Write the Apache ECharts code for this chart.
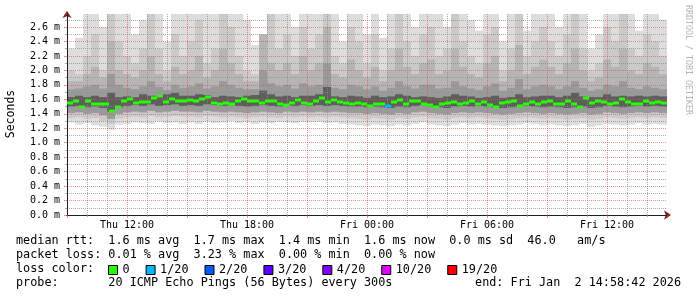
<!DOCTYPE html>
<html><head><meta charset="utf-8">
<script src="https://cdn.jsdelivr.net/npm/echarts@6/dist/echarts.min.js"></script>
<style>html,body{margin:0;padding:0;background:#fff}#c{width:697px;height:297px}</style>
</head><body><div id="c"></div>
<script>
// ---- data (hours from Thu 09:00, 30 h window) ----
const tickHours = [3, 9, 15, 21, 27];
const tickLabels = ['Thu 12:00', 'Thu 18:00', 'Fri 00:00', 'Fri 06:00', 'Fri 12:00'];
const yTicks = [0.0,0.2,0.4,0.6,0.8,1.0,1.2,1.4,1.6,1.8,2.0,2.2,2.4,2.6];

// median rtt (ms), 100 samples of 18 min
const median = [
 1.55,1.58,1.50,1.57,1.53,1.54,1.53,1.44,1.50,1.58,1.61,1.55,1.56,1.56,1.62,1.64,1.56,1.60,1.57,1.58,
 1.59,1.57,1.61,1.63,1.55,1.54,1.55,1.54,1.58,1.60,1.57,1.57,1.55,1.57,1.57,1.54,1.52,1.55,1.59,1.55,
 1.53,1.58,1.62,1.56,1.59,1.56,1.55,1.54,1.55,1.54,1.51,1.53,1.53,1.51,1.56,1.59,1.54,1.57,1.58,1.53,
 1.52,1.49,1.53,1.55,1.56,1.53,1.55,1.58,1.53,1.56,1.52,1.50,1.55,1.56,1.58,1.51,1.53,1.56,1.53,1.56,
 1.57,1.53,1.53,1.58,1.53,1.50,1.62,1.55,1.58,1.56,1.53,1.55,1.61,1.56,1.54,1.54,1.58,1.55,1.56,1.55];
// packet loss per median sample: [sample index, lost pings of 20]
const lossSamples = [[53, 1]];

// smoke (ms), 75 columns of 24 min
const smokeHi = [
 2.30,2.45,2.78,2.78,2.60,2.78,2.78,2.78,2.50,2.70,2.78,2.78,2.40,2.78,2.78,
 2.78,2.78,2.78,2.78,2.78,2.78,2.78,2.70,2.35,2.40,2.78,2.78,2.78,2.60,2.78,
 2.78,2.78,2.78,2.78,2.40,2.78,2.78,2.50,2.78,2.45,2.78,2.78,2.78,2.60,2.78,
 2.78,2.78,2.60,2.78,2.78,2.70,2.55,2.78,2.78,2.40,2.78,2.78,2.55,2.78,2.78,
 2.78,2.60,2.78,2.78,2.78,2.30,2.50,2.78,2.78,2.78,2.78,2.55,2.78,2.78,2.70];
const smokeH2 = [
 2.00,1.95,2.20,2.50,2.00,2.78,2.40,2.20,2.10,2.30,2.78,2.30,2.00,2.50,2.20,
 2.40,2.70,2.10,2.30,2.78,2.60,2.20,2.00,1.95,2.10,2.78,2.30,2.50,2.20,2.60,
 2.30,2.50,2.78,2.20,2.10,2.60,2.40,2.10,2.50,2.00,2.30,2.78,2.40,2.20,2.50,
 2.60,2.20,2.30,2.78,2.40,2.20,2.10,2.50,2.60,2.00,2.30,2.78,2.20,2.40,2.60,
 2.40,2.20,2.50,2.78,2.30,2.00,2.10,2.60,2.40,2.78,2.30,2.20,2.50,2.40,2.20];
const smokeH3 = [
 1.85,1.85,1.95,2.05,1.90,2.40,2.00,1.95,1.90,2.00,2.20,1.95,1.85,2.05,1.95,
 2.00,2.20,1.90,2.00,2.30,2.10,1.95,1.85,1.85,2.50,2.10,2.00,2.10,1.95,2.20,
 2.00,2.10,2.60,1.95,1.90,2.15,2.00,1.90,2.05,1.85,2.00,2.30,2.05,1.95,2.10,
 2.15,1.95,2.00,2.30,2.05,1.95,1.90,2.10,2.20,1.85,2.00,2.35,1.95,2.05,2.15,
 2.05,1.95,2.10,2.30,2.00,1.85,1.90,2.15,2.05,2.30,2.00,1.95,2.10,2.05,1.95];
const smokeQ3 = [
 1.74,1.75,1.78,1.80,1.75,1.95,1.80,1.76,1.74,1.78,1.85,1.77,1.73,1.80,1.76,
 1.78,1.82,1.75,1.78,1.85,1.80,1.76,1.74,1.74,2.00,1.82,1.78,1.80,1.75,1.82,
 1.78,1.80,2.10,1.76,1.74,1.80,1.78,1.74,1.78,1.72,1.76,1.85,1.78,1.75,1.80,
 1.80,1.75,1.76,1.85,1.78,1.75,1.73,1.78,1.82,1.72,1.76,1.88,1.74,1.78,1.80,
 1.78,1.74,1.78,1.85,1.76,1.72,1.74,1.80,1.78,1.85,1.76,1.74,1.78,1.76,1.74];
const smokeDHi = [
 1.63,1.65,1.63,1.65,1.63,1.69,1.63,1.64,1.63,1.67,1.65,1.64,1.67,1.69,1.65,
 1.65,1.67,1.66,1.63,1.65,1.64,1.63,1.65,1.66,1.72,1.67,1.64,1.65,1.63,1.65,
 1.65,1.67,1.77,1.64,1.63,1.65,1.64,1.62,1.65,1.63,1.64,1.67,1.65,1.63,1.64,
 1.63,1.62,1.64,1.67,1.65,1.64,1.62,1.63,1.65,1.62,1.63,1.67,1.63,1.64,1.65,
 1.65,1.63,1.65,1.69,1.64,1.63,1.63,1.67,1.64,1.65,1.64,1.65,1.64,1.65,1.64];
const smokeDLo = [
 1.50,1.51,1.49,1.50,1.48,1.43,1.49,1.51,1.52,1.51,1.53,1.51,1.52,1.53,1.51,
 1.52,1.51,1.53,1.52,1.51,1.52,1.51,1.50,1.51,1.52,1.51,1.50,1.52,1.51,1.52,
 1.51,1.52,1.51,1.52,1.51,1.50,1.50,1.49,1.50,1.49,1.48,1.50,1.49,1.51,1.52,
 1.50,1.49,1.48,1.50,1.51,1.50,1.51,1.50,1.49,1.48,1.49,1.50,1.51,1.50,1.49,
 1.50,1.49,1.48,1.49,1.50,1.48,1.49,1.51,1.50,1.49,1.50,1.51,1.50,1.51,1.50];
const smokeQ1 = [
 1.41,1.42,1.40,1.41,1.38,1.33,1.40,1.42,1.43,1.42,1.44,1.42,1.43,1.44,1.43,
 1.43,1.42,1.44,1.43,1.42,1.43,1.42,1.41,1.42,1.43,1.42,1.41,1.43,1.42,1.43,
 1.42,1.43,1.42,1.43,1.42,1.41,1.41,1.40,1.41,1.40,1.39,1.41,1.40,1.42,1.43,
 1.41,1.40,1.39,1.41,1.42,1.41,1.42,1.41,1.40,1.39,1.40,1.41,1.42,1.41,1.40,
 1.41,1.40,1.39,1.40,1.41,1.39,1.40,1.42,1.41,1.40,1.41,1.42,1.41,1.42,1.41];
const smokeL2 = [
 1.34,1.35,1.33,1.34,1.30,1.26,1.33,1.35,1.36,1.35,1.37,1.35,1.36,1.37,1.36,
 1.36,1.35,1.37,1.36,1.35,1.36,1.35,1.34,1.35,1.36,1.35,1.34,1.36,1.35,1.36,
 1.35,1.36,1.35,1.36,1.35,1.34,1.33,1.32,1.34,1.33,1.32,1.34,1.33,1.35,1.36,
 1.34,1.33,1.32,1.34,1.35,1.34,1.35,1.34,1.33,1.32,1.33,1.34,1.35,1.34,1.33,
 1.34,1.33,1.32,1.33,1.34,1.32,1.33,1.35,1.34,1.33,1.34,1.35,1.34,1.35,1.34];
const smokeLo = [
 1.28,1.25,1.27,1.24,1.22,1.18,1.25,1.26,1.28,1.27,1.26,1.29,1.27,1.28,1.26,
 1.28,1.26,1.29,1.27,1.28,1.30,1.27,1.28,1.26,1.28,1.27,1.29,1.28,1.27,1.29,
 1.28,1.29,1.27,1.28,1.26,1.25,1.24,1.23,1.25,1.24,1.23,1.25,1.24,1.26,1.28,
 1.25,1.24,1.23,1.25,1.27,1.25,1.26,1.25,1.24,1.23,1.24,1.25,1.27,1.26,1.24,
 1.25,1.24,1.23,1.24,1.26,1.22,1.24,1.26,1.25,1.24,1.25,1.27,1.25,1.26,1.25];

const lossLabels = ['0', '1/20', '2/20', '3/20', '4/20', '10/20', '19/20'];
const lossColors = ['#26ff00', '#00b8ff', '#0059ff', '#5e00ff', '#7e00ff', '#dd00ff', '#ff0000'];

const legendLines = [
 'median rtt:  1.6 ms avg  1.7 ms max  1.4 ms min  1.6 ms now  0.0 ms sd  46.0   am/s',
 'packet loss: 0.01 % avg  3.23 % max  0.00 % min  0.00 % now',
 'loss color:',
 'probe:       20 ICMP Echo Pings (56 Bytes) every 300s'
];
const endText = 'end: Fri Jan  2 14:58:42 2026';

// ---- chart ----
const SPAN = 30;
const smokeStep = SPAN / smokeHi.length;
const medStep = SPAN / median.length;
const MONO = 'DejaVu Sans Mono';
const GRID = 'rgba(143,143,143,0.75)';
const MGRID = 'rgba(222,79,79,0.6)';
const ARROW = '#801f1f';

function band(name, lo, hi, color) {
  return {
    type: 'custom', name, silent: true, z: 2, clip: true,
    data: lo.map((v, i) => [i * smokeStep, v, hi[i]]),
    encode: { x: 0, y: [1, 2] },
    renderItem(params, api) {
      const t = api.value(0);
      const a = api.coord([t, api.value(2)]);
      const b = api.coord([t + smokeStep, api.value(1)]);
      return { type: 'rect', shape: { x: a[0], y: a[1], width: b[0] - a[0], height: b[1] - a[1] }, style: { fill: color } };
    }
  };
}
const lossMap = {};
lossSamples.forEach(([i, n]) => { lossMap[i] = n; });
function lossIndex(n) { return n === 0 ? 0 : n === 1 ? 1 : n === 2 ? 2 : n === 3 ? 3 : n <= 4 ? 4 : n <= 10 ? 5 : 6; }

function medSeries(li) {
  const data = [];
  median.forEach((v, i) => {
    const n = lossMap[i] || 0;
    if (lossIndex(n) === li) data.push([i * medStep, v]);
  });
  return {
    type: 'custom', name: lossLabels[li], silent: true, z: 8, clip: true,
    itemStyle: { color: lossColors[li] },
    data,
    encode: { x: 0, y: 1 },
    renderItem(params, api) {
      const t = api.value(0);
      const a = api.coord([t, api.value(1)]);
      const b = api.coord([t + medStep, api.value(1)]);
      return { type: 'rect', shape: { x: a[0], y: Math.round(a[1]) - 1.5, width: b[0] - a[0], height: 3 }, style: { fill: lossColors[li] } };
    }
  };
}

const series = [
  band('s1', smokeLo, smokeHi, '#dddddd'),
  band('s2', smokeL2, smokeH2, '#cacaca'),
  band('s3', smokeQ1, smokeH3, '#b5b5b5'),
  band('s4', smokeQ1, smokeQ3, '#9a9a9a'),
  band('s5', smokeDLo, smokeDHi, '#5e5e5e'),
];
lossLabels.forEach((l, i) => series.push(medSeries(i)));

const chart = echarts.init(document.getElementById('c'), null, { renderer: 'canvas', width: 697, height: 297 });
chart.setOption({
  backgroundColor: '#ffffff',
  animation: false,
  grid: { left: 67, right: 30, top: 14, bottom: 82, containLabel: false },
  legend: {
    left: 108, top: 264, padding: 0, itemWidth: 9, itemHeight: 9, itemGap: 16,
    selectedMode: false, icon: 'rect',
    textStyle: { fontFamily: MONO, fontSize: 11.8, color: '#000' },
    data: lossLabels.map((l, i) => ({ name: l, icon: 'rect', itemStyle: { color: lossColors[i], borderColor: '#000', borderWidth: 1 } }))
  },
  xAxis: [{
    type: 'value', min: 0, max: SPAN, interval: 3, z: 6,
    axisLine: { show: true, lineStyle: { color: '#1f1f1f', width: 1 } },
    axisTick: { show: true, length: 3, lineStyle: { color: MGRID } },
    minorTick: { show: true, splitNumber: 3, length: 2, lineStyle: { color: GRID } },
    axisLabel: {
      color: '#000', fontFamily: MONO, fontSize: 10, margin: 5,
      formatter: v => { const k = tickHours.indexOf(Math.round(v)); return k >= 0 ? tickLabels[k] : ''; }
    },
    splitLine: { show: true, showMinLine: false, showMaxLine: false, lineStyle: { color: MGRID, type: [1, 1], width: 1 } },
    minorSplitLine: { show: true, lineStyle: { color: GRID, type: [1, 1], width: 1 } }
  }, {
    type: 'value', min: 0, max: SPAN, position: 'bottom', z: 4,
    axisLine: { show: true, symbol: ['none', 'arrow'], symbolSize: [7, 7], symbolOffset: [0, 4], lineStyle: { color: ARROW } },
    axisTick: { show: false }, axisLabel: { show: false }, splitLine: { show: false }
  }],
  yAxis: [{
    type: 'value', min: 0, max: 2.78, interval: 0.2, z: 6,
    axisLine: { show: true, lineStyle: { color: '#1f1f1f', width: 1 } },
    axisTick: { show: true, length: 3, lineStyle: { color: MGRID } },
    minorTick: { show: true, splitNumber: 2, length: 2, lineStyle: { color: GRID } },
    axisLabel: {
      color: '#000', fontFamily: MONO, fontSize: 10, margin: 7, showMaxLabel: false,
      formatter: v => { const k = yTicks.findIndex(t => Math.abs(t - v) < 1e-6); return k >= 0 ? yTicks[k].toFixed(1) + ' m' : ''; }
    },
    splitLine: { show: true, showMinLine: false, showMaxLine: false, lineStyle: { color: MGRID, type: [1, 1], width: 1 } },
    minorSplitLine: { show: true, lineStyle: { color: GRID, type: [1, 1], width: 1 } }
  }, {
    type: 'value', min: 0, max: 2.78, position: 'left', z: 4,
    axisLine: { show: true, symbol: ['none', 'arrow'], symbolSize: [7, 7], symbolOffset: [0, 3], lineStyle: { color: ARROW } },
    axisTick: { show: false }, axisLabel: { show: false }, splitLine: { show: false }
  }],
  series,
  graphic: [
    { type: 'text', x: 11, y: 114, rotation: Math.PI / 2, style: { text: 'Seconds', fontFamily: MONO, fontSize: 11.5, fill: '#000', align: 'center', verticalAlign: 'middle' } },
    { type: 'text', x: 688, y: 60, rotation: -Math.PI / 2, style: { text: 'RRDTOOL / TOBI OETIKER', fontFamily: MONO, fontSize: 8.3, fill: '#b4b4b4', align: 'center', verticalAlign: 'middle' } },
    { type: 'text', x: 16, y: 241, style: { text: legendLines[0], fontFamily: MONO, fontSize: 11.8, fill: '#000', verticalAlign: 'middle' } },
    { type: 'text', x: 16, y: 255, style: { text: legendLines[1], fontFamily: MONO, fontSize: 11.8, fill: '#000', verticalAlign: 'middle' } },
    { type: 'text', x: 16, y: 269, style: { text: legendLines[2], fontFamily: MONO, fontSize: 11.8, fill: '#000', verticalAlign: 'middle' } },
    { type: 'text', x: 16, y: 283, style: { text: legendLines[3], fontFamily: MONO, fontSize: 11.8, fill: '#000', verticalAlign: 'middle' } },
    { type: 'text', x: 681, y: 283, style: { text: endText, fontFamily: MONO, fontSize: 11.8, fill: '#000', align: 'right', verticalAlign: 'middle' } }
  ]
});
</script></body></html>
